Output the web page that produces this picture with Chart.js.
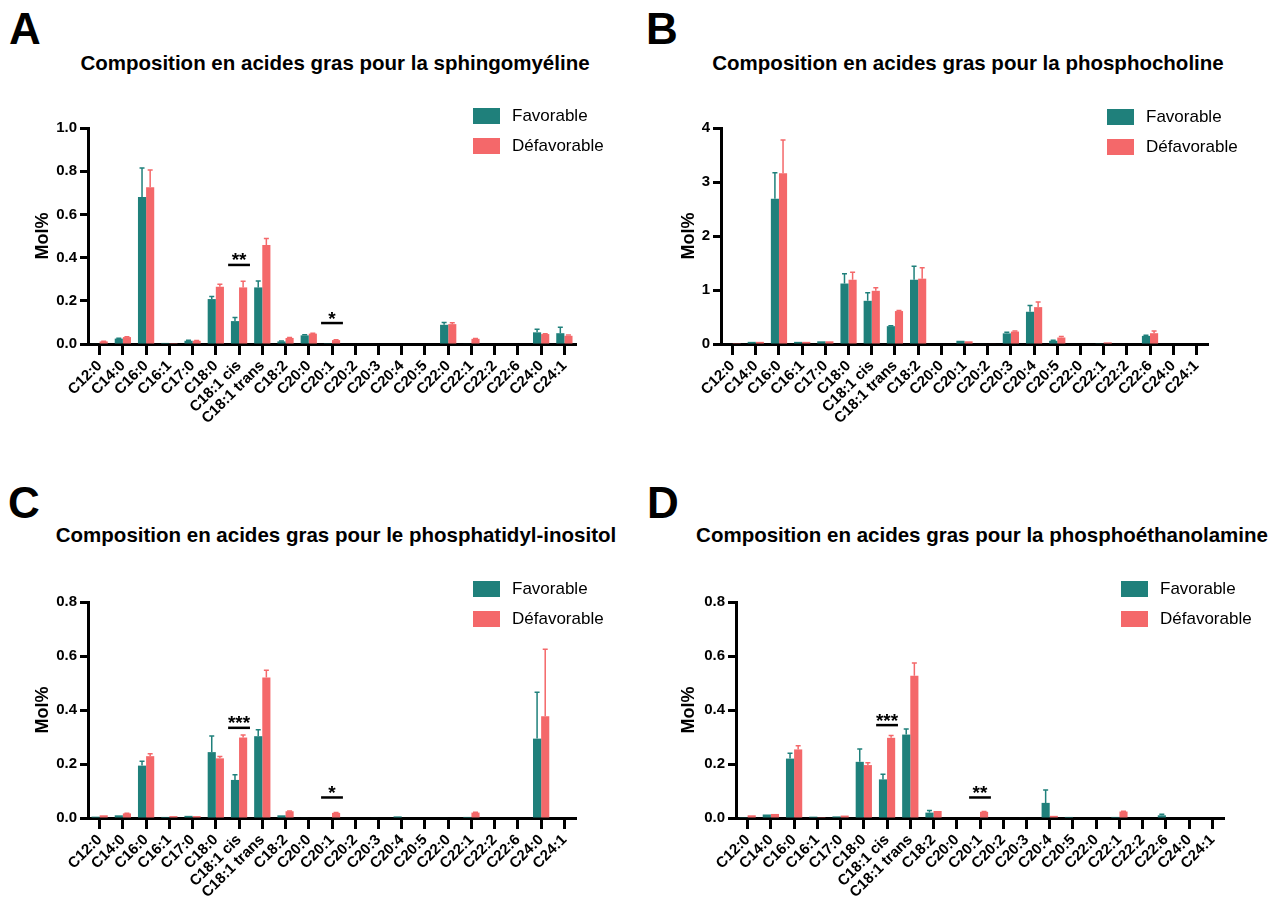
<!DOCTYPE html>
<html>
<head>
<meta charset="utf-8">
<script src="https://cdn.jsdelivr.net/npm/chart.js@4.4.1/dist/chart.umd.min.js"></script>
<style>
body { margin: 0; background: #fff; width: 1280px; height: 901px; position: relative; overflow: hidden;
       font-family: "Liberation Sans", Arial, sans-serif; color: #000; }
.letter { position: absolute; font-size: 44px; font-weight: bold; line-height: 44px; }
.title { position: absolute; width: 640px; text-align: center; font-size: 20.5px; font-weight: bold;
         line-height: 20px; white-space: nowrap; }
.legend { position: absolute; font-size: 17px; }
.item { display: flex; height: 16px; margin-bottom: 14px; }
.box { width: 27px; height: 16px; margin-right: 12px; }
.item span { line-height: 16px; }
canvas { position: absolute; }
</style>
</head>
<body>

<div class="letter" style="left:9px; top:7px;">A</div>
<div class="letter" style="left:646px; top:7px;">B</div>
<div class="letter" style="left:8px; top:481px;">C</div>
<div class="letter" style="left:647px; top:481px;">D</div>

<div class="title" style="left:15px; top:53px;">Composition en acides gras pour la sphingomyéline</div>
<div class="title" style="left:648px; top:53px;">Composition en acides gras pour la phosphocholine</div>
<div class="title" style="left:16px; top:525px;">Composition en acides gras pour le phosphatidyl-inositol</div>
<div class="title" style="left:662px; top:525px;">Composition en acides gras pour la phosphoéthanolamine</div>

<canvas id="chartA" width="640" height="350" style="left:0; top:100px;"></canvas>
<canvas id="chartB" width="640" height="350" style="left:640px; top:100px;"></canvas>
<canvas id="chartC" width="640" height="329" style="left:0; top:572px;"></canvas>
<canvas id="chartD" width="640" height="329" style="left:640px; top:572px;"></canvas>

<div class="legend" id="legA" style="left:473px; top:108px;"></div>
<div class="legend" id="legB" style="left:1107px; top:109px;"></div>
<div class="legend" id="legC" style="left:473px; top:581px;"></div>
<div class="legend" id="legD" style="left:1121px; top:581px;"></div>

<script>
const TEAL = "#1f807b";
const PINK = "#f4686a";
const seriesNames = ["Favorable", "Défavorable"];

const acids = ["C12:0", "C14:0", "C16:0", "C16:1", "C17:0", "C18:0", "C18:1 cis", "C18:1 trans",
               "C18:2", "C20:0", "C20:1", "C20:2", "C20:3", "C20:4", "C20:5", "C22:0", "C22:1",
               "C22:2", "C22:6", "C24:0", "C24:1"];

// A - sphingomyeline
const favA    = [0.002, 0.025, 0.68, 0.005, 0.015, 0.208, 0.106, 0.262, 0.012, 0.04, 0.001, 0, 0, 0, 0, 0.089, 0.002, 0, 0, 0.054, 0.05];
const favErrA = [0, 0.002, 0.135, 0, 0.002, 0.012, 0.017, 0.03, 0.002, 0.003, 0, 0, 0, 0, 0, 0.011, 0, 0, 0, 0.014, 0.028];
const defA    = [0.012, 0.032, 0.726, 0.004, 0.015, 0.265, 0.262, 0.458, 0.028, 0.048, 0.018, 0, 0, 0, 0, 0.092, 0.024, 0, 0, 0.046, 0.038];
const defErrA = [0.001, 0.002, 0.079, 0, 0.001, 0.012, 0.028, 0.031, 0.002, 0.002, 0.002, 0, 0, 0, 0, 0.006, 0.001, 0, 0, 0.002, 0.004];

// B - phosphocholine
const favB    = [0.01, 0.04, 2.69, 0.04, 0.05, 1.12, 0.80, 0.33, 1.19, 0, 0.06, 0.01, 0.197, 0.597, 0.06, 0, 0.005, 0, 0.15, 0, 0];
const favErrB = [0, 0, 0.48, 0, 0, 0.18, 0.15, 0.01, 0.25, 0, 0, 0, 0.02, 0.117, 0.01, 0, 0, 0, 0.01, 0, 0];
const defB    = [0.015, 0.04, 3.16, 0.04, 0.05, 1.19, 0.985, 0.61, 1.21, 0, 0.05, 0.01, 0.23, 0.683, 0.12, 0, 0.03, 0, 0.20, 0, 0];
const defErrB = [0, 0, 0.62, 0, 0, 0.14, 0.055, 0.01, 0.2, 0, 0, 0, 0.01, 0.097, 0.02, 0, 0, 0, 0.04, 0, 0];

// C - phosphatidyl-inositol
const favC    = [0.005, 0.01, 0.194, 0.004, 0.008, 0.244, 0.141, 0.303, 0.01, 0.002, 0, 0, 0.002, 0.006, 0, 0.002, 0.004, 0, 0, 0.294, 0];
const favErrC = [0, 0, 0.016, 0, 0, 0.06, 0.019, 0.024, 0, 0, 0, 0, 0, 0, 0, 0, 0, 0, 0, 0.172, 0];
const defC    = [0.01, 0.017, 0.229, 0.007, 0.007, 0.221, 0.298, 0.52, 0.025, 0, 0.019, 0, 0, 0, 0, 0, 0.02, 0, 0, 0.377, 0];
const defErrC = [0, 0.001, 0.009, 0, 0, 0.007, 0.009, 0.027, 0.001, 0, 0.001, 0, 0, 0, 0, 0, 0.001, 0, 0, 0.248, 0];

// D - phosphoethanolamine
const favD    = [0.003, 0.013, 0.22, 0.005, 0.006, 0.208, 0.143, 0.309, 0.02, 0, 0, 0, 0.002, 0.056, 0.004, 0, 0.004, 0, 0.01, 0, 0];
const favErrD = [0, 0, 0.02, 0, 0, 0.048, 0.019, 0.021, 0.008, 0, 0, 0, 0, 0.048, 0, 0, 0, 0, 0.004, 0, 0];
const defD    = [0.01, 0.015, 0.254, 0.003, 0.009, 0.196, 0.297, 0.527, 0.026, 0, 0.023, 0, 0, 0.008, 0, 0, 0.024, 0, 0, 0, 0];
const defErrD = [0, 0, 0.014, 0, 0, 0.009, 0.009, 0.047, 0, 0, 0.001, 0, 0, 0, 0, 0, 0.001, 0, 0, 0, 0];

// significance marks (category, height, stars)
const sigA = [["C18:1 cis", 0.366, "**"], ["C20:1", 0.097, "*"]];
const sigC = [["C18:1 cis", 0.334, "***"], ["C20:1", 0.076, "*"]];
const sigD = [["C18:1 cis", 0.344, "***"], ["C20:1", 0.076, "**"]];

const FONT = "'Liberation Sans', Arial, sans-serif";

// upward error bars, same colour as the bar
const errorBars = {
    id: "errorBars",
    afterDatasetsDraw(chart) {
        const ctx = chart.ctx;
        const y = chart.scales.y;
        chart.data.datasets.forEach((ds, i) => {
            chart.getDatasetMeta(i).data.forEach((bar, j) => {
                const e = ds.errors[j];
                if (!e) return;
                const top = y.getPixelForValue(ds.data[j] + e);
                ctx.save();
                ctx.strokeStyle = ds.backgroundColor;
                ctx.lineWidth = 1.5;
                ctx.beginPath();
                ctx.moveTo(bar.x, bar.y);
                ctx.lineTo(bar.x, top);
                ctx.moveTo(bar.x - 2.5, top);
                ctx.lineTo(bar.x + 2.5, top);
                ctx.stroke();
                ctx.restore();
            });
        });
    }
};

// horizontal bar + stars above a category
const sigBars = {
    id: "sigBars",
    afterDatasetsDraw(chart, args, opts) {
        const ctx = chart.ctx;
        const { x, y } = chart.scales;
        const half = x.width / chart.data.labels.length * 0.47;
        (opts.marks || []).forEach(([cat, val, stars]) => {
            const cx = x.getPixelForValue(chart.data.labels.indexOf(cat));
            const py = y.getPixelForValue(val);
            ctx.save();
            ctx.strokeStyle = "#000";
            ctx.lineWidth = 2.5;
            ctx.beginPath();
            ctx.moveTo(cx - half, py);
            ctx.lineTo(cx + half, py);
            ctx.stroke();
            ctx.fillStyle = "#000";
            ctx.font = "bold 19px " + FONT;
            ctx.textAlign = "center";
            ctx.textBaseline = "alphabetic";
            ctx.fillText(stars, cx, py + 1.5);
            ctx.restore();
        });
    }
};

function makeLegend(id) {
    const el = document.getElementById(id);
    [TEAL, PINK].forEach((c, i) => {
        const row = document.createElement("div");
        row.className = "item";
        const box = document.createElement("div");
        box.className = "box";
        box.style.background = c;
        const txt = document.createElement("span");
        txt.textContent = seriesNames[i];
        row.appendChild(box);
        row.appendChild(txt);
        el.appendChild(row);
    });
}

function drawPanel(canvasId, fav, favErr, def, defErr, yMax, step, decimals, sig, pad, yWidth, xHeight) {
    const ctx = document.getElementById(canvasId).getContext("2d");
    new Chart(ctx, {
        type: "bar",
        data: {
            labels: acids,
            datasets: [
                { label: seriesNames[0], data: fav, errors: favErr, backgroundColor: TEAL },
                { label: seriesNames[1], data: def, errors: defErr, backgroundColor: PINK }
            ]
        },
        options: {
            responsive: false,
            animation: false,
            categoryPercentage: 0.7,
            barPercentage: 1.0,
            layout: { padding: pad },
            plugins: {
                legend: { display: false },
                tooltip: { enabled: false },
                sigBars: { marks: sig }
            },
            scales: {
                x: {
                    afterFit: s => { s.height = xHeight; },
                    border: { display: true, width: 3, color: "#000" },
                    grid: { offset: false, drawOnChartArea: false, drawTicks: true,
                            tickLength: 11, tickWidth: 3, tickColor: "#000" },
                    ticks: { autoSkip: false, minRotation: 45, maxRotation: 45, padding: 2,
                             color: "#000", font: { family: FONT, size: 15, weight: "bold" } }
                },
                y: {
                    min: 0,
                    max: yMax,
                    afterFit: s => { s.width = yWidth; },
                    border: { display: true, width: 3, color: "#000" },
                    grid: { drawOnChartArea: false, drawTicks: true,
                            tickLength: 8, tickWidth: 3, tickColor: "#000" },
                    ticks: { stepSize: step, padding: 3, color: "#000",
                             font: { family: FONT, size: 15, weight: "bold" },
                             callback: v => Number(v).toFixed(decimals) },
                    title: { display: true, text: "Mol%", color: "#000",
                             font: { family: FONT, size: 18, weight: "bold" } }
                }
            }
        },
        plugins: [errorBars, sigBars]
    });
}

drawPanel("chartA", favA, favErrA, defA, defErrA, 1.0, 0.2, 1, sigA,
          { left: 28, right: 64, top: 28, bottom: 0 }, 60, 106);
drawPanel("chartB", favB, favErrB, defB, defErrB, 4, 1, 0, [],
          { left: 34, right: 72, top: 28, bottom: 0 }, 47, 106);
drawPanel("chartC", favC, favErrC, defC, defErrC, 0.8, 0.2, 1, sigC,
          { left: 28, right: 64, top: 30, bottom: 0 }, 60, 83);
drawPanel("chartD", favD, favErrD, defD, defErrD, 0.8, 0.2, 1, sigD,
          { left: 34, right: 56, top: 30, bottom: 0 }, 62, 83);

["legA", "legB", "legC", "legD"].forEach(makeLegend);
</script>
</body>
</html>
